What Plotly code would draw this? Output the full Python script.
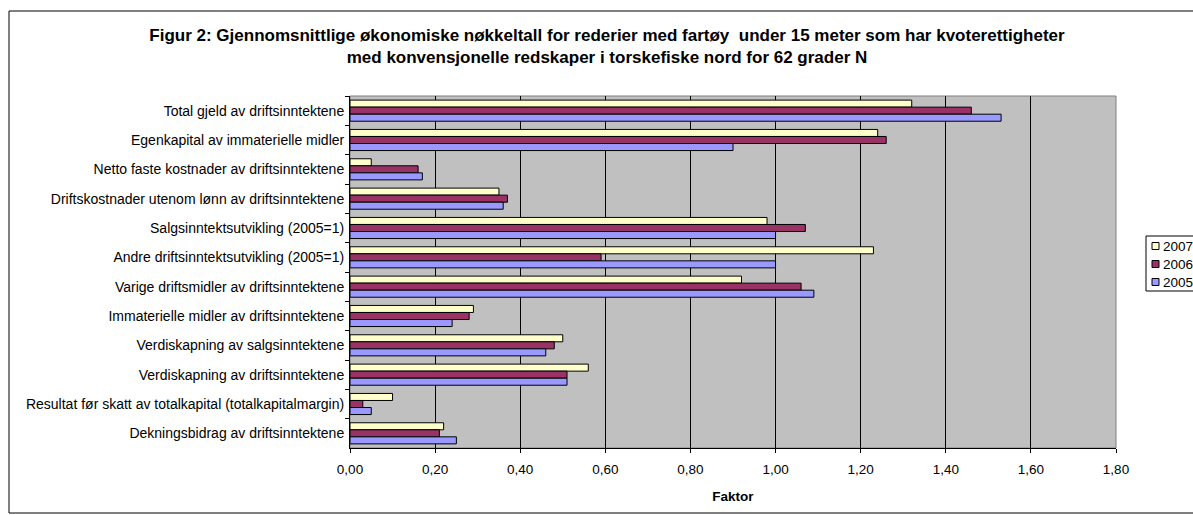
import plotly.graph_objects as go

# Key figures per category (top to bottom as listed)
categories = [
    "Total gjeld av driftsinntektene",
    "Egenkapital av immaterielle midler",
    "Netto faste kostnader av driftsinntektene",
    "Driftskostnader utenom lønn av driftsinntektene",
    "Salgsinntektsutvikling (2005=1)",
    "Andre driftsinntektsutvikling (2005=1)",
    "Varige driftsmidler av driftsinntektene",
    "Immaterielle midler av driftsinntektene",
    "Verdiskapning av salgsinntektene",
    "Verdiskapning av driftsinntektene",
    "Resultat før skatt av totalkapital (totalkapitalmargin)",
    "Dekningsbidrag av driftsinntektene",
]

years = ["2007", "2006", "2005"]
values_2007 = [1.32, 1.24, 0.05, 0.35, 0.98, 1.23, 0.92, 0.29, 0.50, 0.56, 0.10, 0.22]
values_2006 = [1.46, 1.26, 0.16, 0.37, 1.07, 0.59, 1.06, 0.28, 0.48, 0.51, 0.03, 0.21]
values_2005 = [1.53, 0.90, 0.17, 0.36, 1.00, 1.00, 1.09, 0.24, 0.46, 0.51, 0.05, 0.25]
series_values = [values_2007, values_2006, values_2005]
colors = ["#FFFFCC", "#993366", "#9999FF"]

x_ticks = [0, 0.2, 0.4, 0.6, 0.8, 1.0, 1.2, 1.4, 1.6, 1.8]

W, H = 1193, 515
L, R, T, B = 350, 1116, 96, 448  # plot area in pixels
FONT = "Liberation Sans, Arial, sans-serif"
LABEL_SIZE = 14
TICK_SIZE = 13.5


def px_x(p):
    return (p - L) / (R - L)


def px_y(p):
    return (B - p) / (B - T)


fig = go.Figure()
for name, vals, col in zip(years, series_values, colors):
    fig.add_trace(go.Bar(
        y=categories, x=vals, name=name, orientation="h",
        marker=dict(color=col, line=dict(color="#000000", width=1)),
        showlegend=False,
    ))

shapes = [
    # outer chart frame
    dict(type="rect", xref="paper", yref="paper",
         x0=px_x(9), x1=px_x(1230), y0=px_y(513), y1=px_y(11),
         line=dict(color="#000000", width=1), fillcolor="rgba(0,0,0,0)", layer="below"),
    # plot area border
    dict(type="rect", xref="paper", yref="paper", x0=0, x1=1, y0=0, y1=1,
         line=dict(color="#808080", width=1), fillcolor="rgba(0,0,0,0)", layer="below"),
    # legend frame
    dict(type="rect", xref="paper", yref="paper",
         x0=px_x(1146), x1=px_x(1230), y0=px_y(291), y1=px_y(236),
         line=dict(color="#000000", width=1), fillcolor="#FFFFFF"),
]
annotations = []
legend_rows = [246, 264, 282]
for name, col, yc in zip(years, colors, legend_rows):
    shapes.append(dict(type="rect", xref="paper", yref="paper",
                       x0=px_x(1152), x1=px_x(1159), y0=px_y(yc + 3.5), y1=px_y(yc - 3.5),
                       line=dict(color="#000000", width=1), fillcolor=col))
    annotations.append(dict(xref="paper", yref="paper", x=px_x(1161), y=px_y(yc),
                            xanchor="left", yanchor="middle", showarrow=False,
                            text=name, font=dict(family=FONT, size=TICK_SIZE, color="#000000")))

fig.update_layout(
    width=W, height=H,
    margin=dict(l=L, r=W - R, t=T, b=H - B, pad=0),
    paper_bgcolor="#FFFFFF",
    plot_bgcolor="#C0C0C0",
    separators=", ",
    barmode="group",
    bargap=0.28,
    bargroupgap=0.0,
    font=dict(family=FONT, size=LABEL_SIZE, color="#000000"),
    title=dict(
        text="Figur 2: Gjennomsnittlige økonomiske nøkkeltall for rederier med fartøy  under 15 meter som har kvoterettigheter<br>"
             "med konvensjonelle redskaper i torskefiske nord for 62 grader N",
        x=607 / W, xanchor="center", xref="container",
        y=1 - 41 / H, yanchor="middle", yref="container",
        font=dict(family=FONT, size=17, color="#000000", weight="bold"),
    ),
    xaxis=dict(
        range=[0, 1.8], tickvals=x_ticks, tickformat=".2f",
        showgrid=True, gridcolor="#000000", gridwidth=1,
        zeroline=False, showline=True, linecolor="#000000", linewidth=1,
        ticks="outside", ticklen=4, tickcolor="#000000",
        tickfont=dict(family=FONT, size=TICK_SIZE, color="#000000"),
        ticklabelstandoff=5,
        title=dict(text="<b>Faktor</b>", standoff=15,
                   font=dict(family=FONT, size=TICK_SIZE, color="#000000")),
        fixedrange=True,
    ),
    yaxis=dict(
        autorange="reversed", type="category",
        showgrid=False, zeroline=False,
        showline=True, linecolor="#000000", linewidth=1,
        ticks="outside", ticklen=4, tickcolor="#000000", tickson="boundaries",
        tickfont=dict(family=FONT, size=LABEL_SIZE, color="#000000"),
        ticklabelstandoff=2,
        fixedrange=True,
    ),
    shapes=shapes,
    annotations=annotations,
    showlegend=False,
)

fig.write_html("out.html")
